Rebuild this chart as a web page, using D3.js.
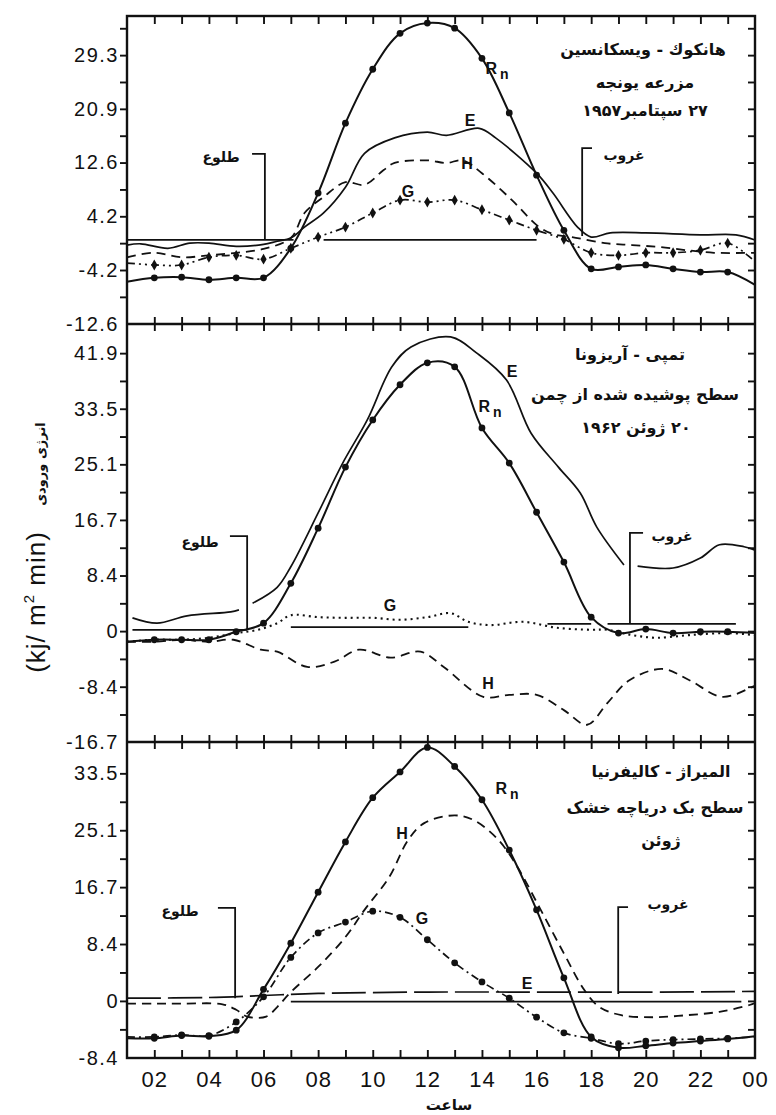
<!DOCTYPE html>
<html>
<head>
<meta charset="utf-8">
<script src="https://cdn.jsdelivr.net/npm/d3@7"></script>
<style>
  body { margin: 0; background: #fff; }
  text { fill: #111; }
</style>
</head>
<body>
<div id="chart"></div>
<script>
const hours = d3.range(1, 25);

// Hancock, Wisconsin - alfalfa, 27 Sep 1957
const rn1 = [-6.0, -5.4, -5.3, -5.7, -5.4, -5.4, -0.8, 7.8, 18.7, 27.1, 32.7, 34.3, 33.5, 28.8, 20.3, 10.6, 2.0, -4.0, -3.7, -3.4, -4.0, -4.5, -4.5, -6.5];
const g1 = [-3.1, -3.4, -3.4, -2.2, -1.9, -2.5, -0.8, 0.95, 2.5, 4.7, 6.7, 6.4, 6.7, 5.2, 3.6, 2.0, 0.6, -1.5, -1.9, -1.5, -1.5, -1.1, 0.0, -2.9];
const e1Hours = [1, 1.5, 2.5, 3.3, 4, 5, 6, 6.5, 7, 7.5, 8.2, 9, 9.7, 10.8, 12, 12.7, 13.9, 14.5, 16, 16.6, 17.5, 18, 18.7, 20, 22, 23.3, 24];
const e1 = [-0.3, -0.1, -0.8, 0.0, 0.0, -0.5, -0.2, 0.3, 0.8, 2.5, 4.7, 8.7, 14.0, 16.4, 17.3, 16.8, 17.9, 16.4, 10.9, 7.8, 2.5, 0.95, 1.6, 1.6, 1.3, 1.3, 0.5];
const h1Hours = [1, 2, 3, 4, 5, 6, 7, 7.5, 8.2, 9, 9.7, 10.4, 10.8, 12, 12.7, 13.3, 14, 15.1, 16.1, 16.7, 17.3, 18.5, 19.5, 20.5, 21.5, 22.5, 24];
const h1 = [-2.2, -1.5, -2.2, -1.9, -1.5, -0.9, 0.8, 4.7, 7.2, 9.5, 9.1, 11.4, 12.5, 12.9, 12.5, 12.9, 10.9, 6.7, 2.5, 1.3, 0.95, 0.0, -0.3, -0.6, -1.1, -1.5, -1.5];

// Tempe, Arizona - grass, 20 Jun 1962
const rn2 = [-1.6, -1.3, -1.3, -1.3, -0.1, 1.2, 7.2, 15.5, 24.7, 31.8, 37.1, 40.4, 39.8, 30.6, 25.3, 17.9, 10.4, 2.1, -0.3, 0.3, -0.3, -0.1, -0.1, -0.3];
const e2Hours = [1.2, 2.1, 3.2, 4.8, 5.1, 5.3, 5.6, 6.5, 7, 8, 8.9, 9.8, 10.7, 11.4, 12.85, 13.8, 14.9, 15.8, 16.8, 17.6, 18.2, 19.2, 19.45, 19.7, 21, 22, 22.7, 23.6, 24];
const e2 = [2.0, 1.2, 2.3, 2.9, 3.2, null, 4.2, 6.6, 9.7, 17.8, 25.3, 31.8, 39.8, 42.8, 44.3, 41.9, 37.8, 29.8, 24.7, 20.8, 15.7, 9.96, null, 9.8, 9.5, 11.0, 13.0, 12.7, 12.2];
const g2Hours = [1, 2, 3, 4, 5, 5.8, 6.5, 7, 8, 9, 10, 11, 12, 12.85, 13.5, 14.3, 15.5, 16.75, 18, 18.6, 19.5, 20.4, 21.6, 23, 24];
const g2 = [-1.6, -1.3, -1.3, -1.0, -0.3, 0.2, 1.2, 2.4, 2.1, 2.0, 2.0, 1.7, 2.1, 2.7, 1.4, 0.9, 1.4, 0.5, 0.2, 0.2, -0.6, -1.0, -0.6, -0.3, -0.6];
const h2Hours = [1, 2, 3, 4, 4.9, 5.9, 6.5, 7.6, 8.6, 9.5, 10.65, 11.75, 12.6, 14.05, 15, 16, 17, 17.85, 18.6, 19.4, 20.6, 21.6, 22.8, 23.9, 24];
const h2 = [-1.6, -1.6, -1.3, -1.6, -1.3, -2.8, -3.1, -5.4, -4.6, -2.8, -4.0, -3.1, -5.4, -9.9, -9.6, -9.6, -11.9, -14.1, -10.8, -7.4, -5.7, -7.4, -9.9, -8.4, -8.2];

// El Mirage, California - dry lake bed, June
const rn3 = [-5.5, -5.5, -5.1, -5.2, -4.3, 1.7, 8.5, 16.0, 23.4, 29.9, 33.7, 37.3, 34.5, 29.6, 22.2, 13.4, 3.4, -5.3, -6.9, -6.6, -6.2, -5.9, -5.6, -5.2];
const g3 = [-5.3, -5.3, -5.0, -5.1, -3.1, 0.6, 6.4, 10.0, 11.6, 13.2, 12.3, 9.0, 5.6, 2.8, 0.4, -2.4, -4.7, -5.5, -6.3, -5.9, -5.7, -5.6, -5.5, -5.3];
const h3Hours = [1, 2, 3, 4.5, 5, 5.4, 6.1, 6.5, 7, 8, 9, 9.7, 10.6, 11.3, 11.9, 13, 13.7, 14.6, 15.3, 16.1, 17, 17.75, 18.3, 19.1, 20.3, 21.5, 22.7, 23.8, 24];
const h3 = [-0.4, -0.4, -0.4, -0.5, -1.3, -2.3, -2.3, -0.9, 1.3, 5.0, 9.4, 13.4, 18.2, 23.7, 26.2, 27.3, 26.6, 23.7, 19.7, 13.8, 7.0, 1.6, -0.9, -2.1, -2.4, -2.1, -1.6, -0.6, -0.3];
const e3Hours = [1, 4, 6, 8, 12, 16, 20, 24];
const e3 = [0.4, 0.5, 0.8, 1.1, 1.3, 1.3, 1.3, 1.4];

// reference lines: [from hour, to hour, value]
const base1 = [[1, 7.1, 0.5], [8.2, 16.0, 0.5]];
const base2 = [[1.2, 5.4, 0.2], [7.0, 13.5, 0.6], [16.4, 18.0, 1.1], [18.6, 23.3, 1.1]];
const base3 = [[7.0, 23.5, -0.1]];

// sunrise / sunset brackets: [hour, stub hour, top value, bottom value]
const rise1 = [6.05, 5.58, 13.9, 0.5], set1 = [17.67, 18.03, 14.8, 1.1];
const rise2 = [5.40, 4.77, 14.3, 0.2], set2 = [19.42, 19.9, 14.8, 1.1];
const rise3 = [4.96, 4.33, 13.7, 0.4], set3 = [18.99, 19.35, 13.8, 1.0];

const p1Labels = [-12.6, -4.2, 4.2, 12.6, 20.9, 29.3];
const p2Labels = [-16.7, -8.4, 0, 8.4, 16.7, 25.1, 33.5, 41.9];
const p3Labels = [-8.4, 0, 8.4, 16.7, 25.1, 33.5];
const hourTicks = [2, 4, 6, 8, 10, 12, 14, 16, 18, 20, 22, 24];
const hourLabels = ["02", "04", "06", "08", "10", "12", "14", "16", "18", "20", "22", "00"];
const step = 4.186;

const width = 776, height = 1115;
const left = 127, right = 755;
const persian = "'DejaVu Sans', 'Noto Sans', sans-serif";
const latin = "'Liberation Sans', Arial, sans-serif";

const svg = d3.select("#chart").append("svg")
    .attr("width", width)
    .attr("height", height);

const x = d3.scaleLinear().domain([1, 24]).range([left, right]);

const zip = (xs, ys) => xs.map((h, i) => [h, ys[i]]);

const panels = [
    {
        top: 16, bottom: 324, domain: [-12.6, 35.4], labels: p1Labels,
        rn: zip(hours, rn1), e: zip(e1Hours, e1), h: zip(h1Hours, h1), g: zip(hours, g1),
        gStyle: "dashdotdot", eStyle: "solid", base: base1, rise: rise1, set: set1,
        title: [["هانكوك - ويسكانسين", 643, 50], ["مزرعه یونجه", 645, 83], ["۲۷ سپتامبر۱۹۵۷", 645, 111]],
        tags: [["Rn", 497, 70], ["E", 470, 122], ["H", 467, 165], ["G", 408, 193]],
        riseText: [221, 158], setText: [624, 156]
    },
    {
        top: 324, bottom: 742, domain: [-16.7, 46.25], labels: p2Labels,
        rn: zip(hours, rn2), e: zip(e2Hours, e2), h: zip(h2Hours, h2), g: zip(g2Hours, g2),
        gStyle: "dotted", eStyle: "solid", base: base2, rise: rise2, set: set2,
        title: [["تمپی - آریزونا", 630, 355], ["سطح پوشیده شده از چمن", 635, 395], ["۲۰ ژوئن ۱۹۶۲", 636, 428]],
        tags: [["E", 512, 373], ["Rn", 490, 408], ["G", 390, 607], ["H", 488, 685]],
        riseText: [200, 543], setText: [672, 537]
    },
    {
        top: 742, bottom: 1058, domain: [-8.4, 38.1], labels: p3Labels,
        rn: zip(hours, rn3), e: zip(e3Hours, e3), h: zip(h3Hours, h3), g: zip(hours, g3),
        gStyle: "dashdot", eStyle: "long", base: base3, rise: rise3, set: set3,
        title: [["المیراژ - کالیفرنیا", 661, 772], ["سطح بک دریاچه خشک", 655, 808], ["ژوئن", 661, 841]],
        tags: [["Rn", 507, 790], ["H", 402, 835], ["G", 422, 920], ["E", 527, 985]],
        riseText: [180, 912], setText: [668, 905]
    }
];

const dashes = {
    solid: null,
    long: "34,7",
    dotted: "2,4",
    dashdot: "8,4,2,4",
    dashdotdot: "8,4,2,4,2,4"
};

panels.forEach((p, pi) => {
    const y = d3.scaleLinear().domain(p.domain).range([p.bottom, p.top]);
    const g = svg.append("g");

    const minor = d3.range(Math.ceil(p.domain[0] / step - 1e-6), Math.floor(p.domain[1] / step + 1e-6) + 1)
        .map(k => k * step)
        .filter(v => y(v) > p.top + 3 && y(v) < p.bottom - 3);

    // left ticks and labels
    g.append("g")
        .attr("transform", "translate(" + left + ",0)")
        .call(d3.axisLeft(y).tickValues(minor).tickSize(7).tickFormat(""))
        .call(a => a.select(".domain").remove())
        .call(a => a.selectAll("line").attr("stroke", "#111").attr("stroke-width", 1.9));

    g.append("g")
        .attr("transform", "translate(" + left + ",0)")
        .call(d3.axisLeft(y).tickValues(p.labels).tickSize(0).tickPadding(8)
            .tickFormat(d => d === 0 ? "0" : d.toFixed(1)))
        .call(a => a.select(".domain").remove())
        .call(a => a.selectAll("text")
            .attr("font-family", latin)
            .attr("font-size", 20)
            .attr("letter-spacing", 1.5)
            .attr("fill", "#111"));

    // right ticks, inward
    g.append("g")
        .attr("transform", "translate(" + right + ",0)")
        .call(d3.axisLeft(y).tickValues(minor).tickSize(7).tickFormat(""))
        .call(a => a.select(".domain").remove())
        .call(a => a.selectAll("line").attr("stroke", "#111").attr("stroke-width", 1.9));

    // hour ticks on the panel's top edge
    const inner = d3.range(2, 24);
    g.append("g")
        .attr("transform", "translate(0," + p.top + ")")
        .call(d3.axisBottom(x).tickValues(inner).tickSize(pi === 0 ? 8 : 7).tickFormat(""))
        .call(a => a.select(".domain").remove())
        .call(a => a.selectAll("line").attr("stroke", "#111").attr("stroke-width", 1.9));
    if (pi > 0) {
        g.append("g")
            .attr("transform", "translate(0," + p.top + ")")
            .call(d3.axisTop(x).tickValues(inner).tickSize(7).tickFormat(""))
            .call(a => a.select(".domain").remove())
            .call(a => a.selectAll("line").attr("stroke", "#111").attr("stroke-width", 1.9));
    }
    if (pi === panels.length - 1) {
        g.append("g")
            .attr("transform", "translate(0," + p.bottom + ")")
            .call(d3.axisTop(x).tickValues(inner).tickSize(8).tickFormat(""))
            .call(a => a.select(".domain").remove())
            .call(a => a.selectAll("line").attr("stroke", "#111").attr("stroke-width", 1.9));
        g.append("g")
            .attr("transform", "translate(0," + p.bottom + ")")
            .call(d3.axisBottom(x).tickValues(hourTicks).tickSize(0).tickPadding(13)
                .tickFormat((d, i) => hourLabels[i]))
            .call(a => a.select(".domain").remove())
            .call(a => a.selectAll("text")
                .attr("font-family", latin)
                .attr("font-size", 22)
                .attr("letter-spacing", 1)
                .attr("fill", "#111"));
    }

    const line = d3.line()
        .defined(d => d[1] != null)
        .x(d => x(d[0]))
        .y(d => y(d[1]))
        .curve(d3.curveCatmullRom.alpha(0.5));

    // reference lines
    g.selectAll("line.base")
        .data(p.base)
        .join("line")
        .attr("class", "base")
        .attr("x1", d => x(d[0]))
        .attr("x2", d => x(d[1]))
        .attr("y1", d => y(d[2]))
        .attr("y2", d => y(d[2]))
        .attr("stroke", "#111")
        .attr("stroke-width", 1.8);

    // sunrise (bracket opens left) and sunset (bracket opens right)
    [p.rise, p.set].forEach(b => {
        g.append("path")
            .attr("d", "M" + x(b[1]) + "," + y(b[2]) + "H" + x(b[0]) + "V" + y(b[3]))
            .attr("fill", "none")
            .attr("stroke", "#111")
            .attr("stroke-width", 1.8);
    });
    g.append("text")
        .attr("x", p.riseText[0]).attr("y", p.riseText[1])
        .attr("text-anchor", "middle").attr("dominant-baseline", "middle")
        .attr("font-family", persian).attr("font-size", 14).attr("font-weight", "bold")
        .text("طلوع");
    g.append("text")
        .attr("x", p.setText[0]).attr("y", p.setText[1])
        .attr("text-anchor", "middle").attr("dominant-baseline", "middle")
        .attr("font-family", persian).attr("font-size", 14).attr("font-weight", "bold")
        .text("غروب");

    // H dashed
    g.append("path")
        .attr("d", line(p.h))
        .attr("fill", "none")
        .attr("stroke", "#111")
        .attr("stroke-width", 1.8)
        .attr("stroke-dasharray", "9,6");

    // E
    g.append("path")
        .attr("d", line(p.e))
        .attr("fill", "none")
        .attr("stroke", "#111")
        .attr("stroke-width", 1.7)
        .attr("stroke-dasharray", dashes[p.eStyle]);

    // G
    g.append("path")
        .attr("d", line(p.g))
        .attr("fill", "none")
        .attr("stroke", "#111")
        .attr("stroke-width", p.gStyle === "dotted" ? 2.1 : 1.7)
        .attr("stroke-dasharray", dashes[p.gStyle]);
    if (p.gStyle !== "dotted") {
        const sym = d3.symbol()
            .type(p.gStyle === "dashdotdot" ? d3.symbolDiamond : d3.symbolCircle)
            .size(p.gStyle === "dashdotdot" ? 34 : 36);
        g.selectAll("path.gmark")
            .data(p.g.filter(d => d[0] >= 2 && d[0] <= 23))
            .join("path")
            .attr("class", "gmark")
            .attr("d", sym)
            .attr("transform", d => "translate(" + x(d[0]) + "," + y(d[1]) + ")")
            .attr("fill", "#111");
    }

    // Rn solid with dots
    g.append("path")
        .attr("d", line(p.rn))
        .attr("fill", "none")
        .attr("stroke", "#111")
        .attr("stroke-width", 2);
    g.selectAll("circle.rn")
        .data(p.rn.filter(d => d[0] >= 2 && d[0] <= 23))
        .join("circle")
        .attr("class", "rn")
        .attr("cx", d => x(d[0]))
        .attr("cy", d => y(d[1]))
        .attr("r", 3.4)
        .attr("fill", "#111");

    // series tags
    p.tags.forEach(t => {
        const txt = g.append("text")
            .attr("x", t[1]).attr("y", t[2])
            .attr("text-anchor", "middle").attr("dominant-baseline", "middle")
            .attr("font-family", latin).attr("font-size", 16).attr("font-weight", "bold");
        if (t[0] === "Rn") {
            txt.append("tspan").text("R");
            txt.append("tspan").attr("dy", 5).attr("dx", 3).attr("font-size", 14).text("n");
        } else {
            txt.text(t[0]);
        }
    });

    // site titles
    p.title.forEach(t => {
        g.append("text")
            .attr("x", t[1]).attr("y", t[2])
            .attr("text-anchor", "middle").attr("dominant-baseline", "middle")
            .attr("direction", "rtl")
            .attr("font-family", persian).attr("font-size", 16).attr("font-weight", "bold")
            .text(t[0]);
    });
});

// frame
svg.append("rect")
    .attr("x", left).attr("y", 16)
    .attr("width", right - left).attr("height", 1058 - 16)
    .attr("fill", "none").attr("stroke", "#111").attr("stroke-width", 2.4);
[324, 742].forEach(v => {
    svg.append("line")
        .attr("x1", left).attr("x2", right)
        .attr("y1", v).attr("y2", v)
        .attr("stroke", "#111").attr("stroke-width", 2.4);
});

// axis titles
const yt = svg.append("g").attr("transform", "translate(45,602) rotate(-90)");
const unit = yt.append("text")
    .attr("text-anchor", "middle")
    .attr("font-family", latin).attr("font-size", 26).attr("letter-spacing", 1);
unit.append("tspan").text("(kj/ m");
unit.append("tspan").attr("dy", -11).attr("font-size", 15).text("2");
unit.append("tspan").attr("dy", 11).text(" min)");

svg.append("g").attr("transform", "translate(45,464) rotate(-90)")
    .append("text")
    .attr("text-anchor", "middle")
    .attr("font-family", persian).attr("font-size", 13).attr("font-weight", "bold")
    .text("انرژی ورودی");

svg.append("text")
    .attr("x", 449).attr("y", 1105)
    .attr("text-anchor", "middle").attr("dominant-baseline", "middle")
    .attr("font-family", persian).attr("font-size", 15).attr("font-weight", "bold")
    .text("ساعت");
</script>
</body>
</html>
